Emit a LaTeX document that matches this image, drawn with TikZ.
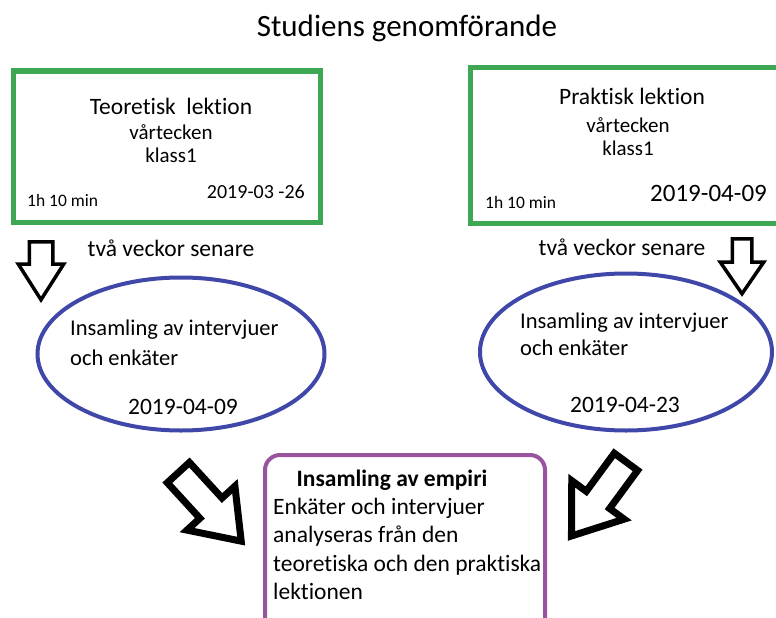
\documentclass[tikz,border=0pt]{standalone}
\usepackage{fontspec}
\setmainfont{Carlito}[Ligatures=NoCommon]
\usepackage{xcolor}
\usetikzlibrary{shapes.geometric,shapes.arrows}
\definecolor{lessongreen}{RGB}{61,167,84}
\definecolor{ovalblue}{RGB}{63,72,168}
\definecolor{empiripurple}{RGB}{152,84,156}

\begin{document}
\begin{tikzpicture}[x=1pt,y=-1pt,
  lesson/.style={draw=lessongreen,line width=5pt,inner sep=0pt},
  oval/.style={shape=ellipse,draw=ovalblue,line width=4pt,inner sep=0pt},
  empiri/.style={draw=empiripurple,line width=4pt,rounded corners=15pt,inner sep=0pt},
  hollow/.style={shape=single arrow,draw=black,fill=white,inner xsep=0pt,minimum width=0pt,anchor=tail},
  big/.style={inner sep=0pt,font=\fontsize{23.5}{28}\selectfont},
  mid/.style={inner sep=0pt,font=\fontsize{21}{25}\selectfont},
  little/.style={inner sep=0pt,font=\fontsize{17.5}{21}\selectfont}]
\useasboundingbox(0,0)rectangle(776,618);
\clip(0,0)rectangle(776,618);
% rubrik
\node[inner sep=0pt,font=\fontsize{31}{36}\selectfont](rubrik)at(407,28){Studiens genomförande};
% lektionerna
\node[lesson,minimum width=307pt,minimum height=151pt](teori)at(166.5,146.5){};
\node[big](teoriT)at(171,106){Teoretisk\ \ lektion};
\node[mid](teoriV)at(171,132){vårtecken};
\node[mid](teoriK)at(171,155){klass1};
\node[little,anchor=west](teoriH)at(27,200){1h 10 min};
\node[mid,font=\fontsize{20}{24}\selectfont,anchor=east](teoriD)at(305,192){2019-03 -26};
\node[lesson,minimum width=320pt,minimum height=155pt](praktik)at(630,145.5){};
\node[big](praktikT)at(632,96){Praktisk lektion};
\node[mid](praktikV)at(628,125){vårtecken};
\node[mid](praktikK)at(628,148){klass1};
\node[little,anchor=west](praktikH)at(485,202){1h 10 min};
\node[big,font=\fontsize{25}{30}\selectfont,anchor=west](praktikD)at(650,193){2019-04-09};
\node[big](senareA)at(171,248){två veckor senare};
\node[big](senareB)at(622,247){två veckor senare};
% insamling
\node[oval,minimum width=287pt,minimum height=153pt](ovalA)at(181,354){};
\node[big,font=\fontsize{22.5}{27}\selectfont,anchor=west](ovalA1)at(70,330){Insamling av intervjuer};
\node[big,font=\fontsize{22.5}{27}\selectfont,anchor=west](ovalA2)at(70,358){och enkäter};
\node[big](ovalA3)at(183,407){2019-04-09};
\node[oval,minimum width=292pt,minimum height=157pt](ovalB)at(626,352){};
\node[big,font=\fontsize{22.5}{27}\selectfont,anchor=west](ovalB1)at(520,323){Insamling av intervjuer};
\node[big,font=\fontsize{22.5}{27}\selectfont,anchor=west](ovalB2)at(520,348){och enkäter};
\node[big](ovalB3)at(625,405){2019-04-23};
% empiri
\node[empiri,minimum width=280pt,minimum height=190pt](empiri)at(405,550){};
\node[big,font=\fontsize{23.5}{28}\bfseries](empiriT)at(392,480){Insamling av empiri};
\node[big,anchor=north west,align=left,font=\fontsize{23.5}{28.3}\selectfont](empiriB)at(273,498)
  {Enkäter och intervjuer\\analyseras från den\\teoretiska och den praktiska\\lektionen};
% pilar
\node[hollow,line width=3.5pt,inner ysep=10pt,single arrow head extend=11pt,single arrow tip angle=65,minimum height=58pt,rotate=-90](pilA)at(41,240){};
\node[hollow,line width=3.5pt,inner ysep=8pt,single arrow head extend=12pt,single arrow tip angle=69,minimum height=55pt,rotate=-90](pilB)at(742,237){};
\node[hollow,line width=7pt,inner ysep=11.5pt,single arrow head extend=17.5pt,single arrow tip angle=72,minimum height=93pt,rotate=-47.5](pilC)at(176,470){};
\node[hollow,line width=7pt,inner ysep=11pt,single arrow head extend=18pt,single arrow tip angle=72,minimum height=92pt,rotate=-126.3](pilD)at(628,459){};
\end{tikzpicture}
\end{document}
